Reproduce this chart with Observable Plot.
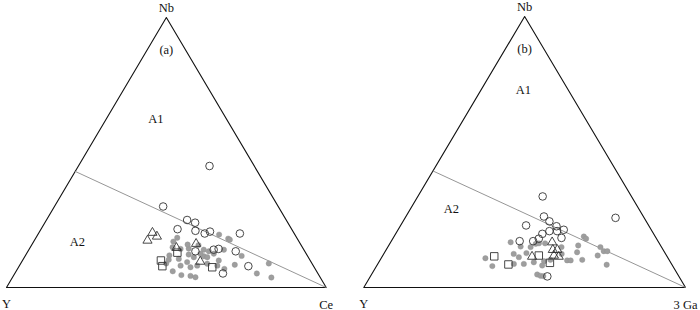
<!DOCTYPE html>
<html>
<head>
<meta charset="utf-8">
<script src="https://cdn.jsdelivr.net/npm/d3@7"></script>
<script src="https://cdn.jsdelivr.net/npm/@observablehq/plot@0.6"></script>
<style>
  body { margin: 0; background: #fff; }
  #wrap { position: relative; width: 700px; height: 310px; }
  #wrap > div { position: absolute; top: 0; }
</style>
</head>
<body>
<div id="wrap"><div id="pa" style="left:0"></div><div id="pb" style="left:350px"></div></div>
<script>
// Ternary compositions as [Nb %, third-apex %] (Y % = 100 - Nb - third)
// Panel (a): Nb - Y - Ce
const aOpenCircles = [[45,41],[30,34],[25,44],[24,47],[21.6,42.7],[21,48.6],[20.7,53.3],[20,52],[20,63],[13.4,52.4],[14.3,59.2],[14,57.8],[13.4,65],[7.9,71.7],[5.2,65.1]];
const aTriangles = [[20.3,35.5],[18.9,37.6],[17.4,35.4],[14.7,45.8],[16.2,51.2],[9.6,55.8]];
const aSquares = [[10,43.3],[7.9,44.8],[12.9,47],[7.5,60.6]];
const aGrey = [[19.6,56.7],[18.1,60.3],[17.7,61],[17,43.7],[18.4,44.2],[14.9,44.5],[14.3,47.3],[14.4,49.8],[14,54.7],[13.4,56.6],[14,61],[12.2,50.9],[11.2,53],[11.6,55.9],[11.2,57.2],[11.9,45],[10.6,48.6],[9.4,51.8],[8.1,55.6],[8.8,58.4],[8.1,50.4],[7.5,53.8],[8.1,61.9],[6.9,64.7],[8.4,67.2],[11.7,67.7],[8.9,77.6],[5.2,75.7],[3.7,81],[6,49],[4.6,52.4],[4.3,55.4],[3.8,57.2],[8.9,45.5],[10.3,45.6],[10,61.4],[12.5,54.4],[12.5,58.6],[15.9,48.7],[15.7,52.2]];
// Panel (b): Nb - Y - 3 Ga
const bOpenCircles = [[33.6,38.8],[26.2,42.9],[24.4,45.5],[22.6,48.6],[21.3,51.5],[20.8,49.7],[20.8,47.3],[18.3,52.3],[22.9,39],[19.8,45.6],[18,45.4],[17.1,44.1],[17.1,39.9],[25.7,65.4],[4.1,55]];
const bTriangles = [[16.7,50.2],[13.9,51.8],[11.4,46.6],[13.9,53.2],[11.8,53.2],[11.4,54.9]];
const bSquares = [[11.5,34.8],[8.5,40.7],[11.8,48.5],[9.1,53.3]];
const bGrey = [[10.8,32.4],[7.9,36],[16.7,37.3],[12.4,40.4],[11.2,42.6],[15.1,41.2],[8.7,45.4],[14.9,44.4],[16.1,45.4],[16.3,46.3],[16.3,48.2],[12.7,44.2],[9.3,48.2],[9.7,51.2],[8.1,51.4],[10.2,52.9],[14.9,54],[12.4,55.3],[10,58.2],[10,59.3],[15.5,58.9],[13,59.8],[10.2,62.8],[18.8,59],[18,60.1],[14.9,66.1],[11.8,66.8],[13.4,67.9],[13.4,69],[8.4,71.3],[4.8,51.5],[4.3,52.8],[4.2,53.7],[8.7,42.3]];
// Triangle corners and A1/A2 boundary (from Nb 43 on Nb-Y side to the third apex)
const corners = [[0,0],[100,0],[0,100],[0,0]];
const boundary = [[43,0],[0,100]];

const X = d => d[1] + d[0] / 2;
const Yv = d => d[0];
const font = "'Liberation Serif', 'Times New Roman', serif";

function panel(sel, opts) {
  const txt = {x: d => d.c + d.nb / 2, y: "nb", text: "label", fontSize: 12.5, fill: "#111", fontFamily: font};
  const p = Plot.plot({
    width: 350, height: 310,
    marginLeft: opts.m[0], marginRight: opts.m[1], marginTop: opts.m[2], marginBottom: opts.m[3],
    x: {domain: [0, 100], axis: null},
    y: {domain: [0, 100], axis: null},
    style: {fontFamily: font, background: "white", overflow: "visible"},
    marks: [
      Plot.line(corners, {x: X, y: Yv, stroke: "#111", strokeWidth: 1.1}),
      Plot.line(boundary, {x: X, y: Yv, stroke: "#8a8a8a", strokeWidth: 0.9}),
      Plot.dot(opts.grey, {x: X, y: Yv, r: 2.7, fill: "#9e9e9e", stroke: "#8f8f8f", strokeWidth: 0.4}),
      Plot.dot(opts.circles, {x: X, y: Yv, r: 3.8, fill: "none", stroke: "#333", strokeWidth: 0.9}),
      Plot.dot(opts.tris, {x: X, y: Yv, r: 3.4, symbol: "triangle", fill: "none", stroke: "#333", strokeWidth: 0.9}),
      Plot.dot(opts.squares, {x: X, y: Yv, r: 4.2, symbol: "square", fill: "none", stroke: "#333", strokeWidth: 0.9}),
      Plot.text([{label: "Nb", nb: 100, c: 0}], {...txt, dy: -10}),
      Plot.text([{label: "Y", nb: 0, c: 0}], {...txt, dy: 16}),
      Plot.text([{label: opts.third, nb: 0, c: 100}], {...txt, dy: 17}),
      Plot.text(opts.regions, txt)
    ]
  });
  document.getElementById(sel).appendChild(p);
}

panel("pa", {m: [6, 24.3, 17, 23], third: "Ce",
  regions: [{label: "(a)", nb: 88, c: 6}, {label: "A1", nb: 62.5, c: 15.5}, {label: "A2", nb: 17, c: 13.7}],
  grey: aGrey, circles: aOpenCircles, tris: aTriangles, squares: aSquares});
panel("pb", {m: [13.3, 15, 16, 23], third: "3 Ga",
  regions: [{label: "(b)", nb: 88, c: 6}, {label: "A1", nb: 73, c: 13.1}, {label: "A2", nb: 28.8, c: 12.8}],
  grey: bGrey, circles: bOpenCircles, tris: bTriangles, squares: bSquares});
</script>
</body>
</html>
